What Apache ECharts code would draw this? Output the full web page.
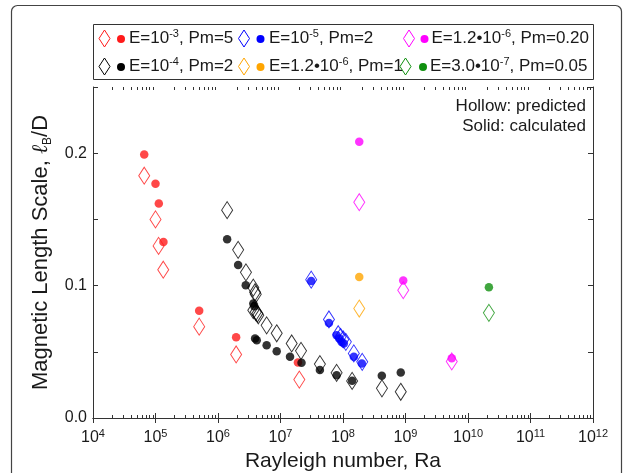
<!DOCTYPE html>
<html>
<head>
<meta charset="utf-8">
<script src="https://cdn.jsdelivr.net/npm/echarts@6/dist/echarts.min.js"></script>
<style>
  html, body { margin: 0; padding: 0; background: #fff; }
  #chart { width: 633px; height: 473px; }
</style>
</head>
<body>
<div id="chart"></div>
<script>
// Magnetic length scale vs Rayleigh number: predicted (hollow) and calculated (solid)

// E=10^-3, Pm=5
const e3Predicted = [[6.6e4, 0.183], [1.0e5, 0.150], [1.12e5, 0.130], [1.33e5, 0.112], [5.0e5, 0.069], [1.95e6, 0.048], [2.0e7, 0.029]];
const e3Calculated = [[6.6e4, 0.199], [1.0e5, 0.177], [1.13e5, 0.162], [1.34e5, 0.133], [5.0e5, 0.081], [1.95e6, 0.061], [1.9e7, 0.042]];

// E=10^-4, Pm=2
const e4Predicted = [[1.4e6, 0.157], [2.1e6, 0.127], [2.8e6, 0.110], [3.67e6, 0.0985], [3.92e6, 0.095], [4.02e6, 0.0934],
  [3.67e6, 0.0814], [4.02e6, 0.080], [4.26e6, 0.0789], [4.41e6, 0.0776], [6.0e6, 0.070], [8.7e6, 0.064],
  [1.51e7, 0.0563], [2.13e7, 0.0507], [4.27e7, 0.0407], [7.9e7, 0.0341], [1.4e8, 0.028], [4.2e8, 0.0224], [8.4e8, 0.0198]];
const e4Calculated = [[1.4e6, 0.135], [2.1e6, 0.1155], [2.78e6, 0.1002], [3.67e6, 0.0864], [3.81e6, 0.0844], [3.92e6, 0.0601],
  [4.17e6, 0.0588], [6.0e6, 0.055], [8.7e6, 0.0505], [1.42e7, 0.0462], [2.17e7, 0.0418], [4.27e7, 0.0362],
  [7.9e7, 0.0322], [1.4e8, 0.0281], [4.18e8, 0.0319], [8.4e8, 0.0344]];

// E=10^-5, Pm=2
const e5Predicted = [[3.1e7, 0.1045], [5.96e7, 0.0744], [8.38e7, 0.0633], [9.16e7, 0.0613], [1.01e8, 0.0593], [1.11e8, 0.0575], [1.49e8, 0.0488], [2.03e8, 0.0424]];
const e5Calculated = [[3.1e7, 0.1035], [5.96e7, 0.0718], [7.9e7, 0.0625], [8.69e7, 0.0601], [9.5e7, 0.0575], [1.03e8, 0.0563], [1.49e8, 0.0462], [2.0e8, 0.0412]];

// E=1.2*10^-6, Pm=0.20
const e12Pm02Predicted = [[1.82e8, 0.163], [9.2e8, 0.0965], [5.5e9, 0.0427]];
const e12Pm02Calculated = [[1.82e8, 0.2087], [9.2e8, 0.1038], [5.5e9, 0.0452]];

// E=1.2*10^-6, Pm=1
const e12Pm1Predicted = [[1.82e8, 0.0827]];
const e12Pm1Calculated = [[1.82e8, 0.1065]];

// E=3.0*10^-7, Pm=0.05
const e03Predicted = [[2.16e10, 0.0794]];
const e03Calculated = [[2.16e10, 0.0987]];

// Axis ranges and ticks
const raMin = 1e4, raMax = 1e12;
const scaleMin = 0, scaleMax = 0.25, scaleStep = 0.05;
const decades = [4, 5, 6, 7, 8, 9, 10, 11];
const minorMultipliers = [2, 3, 4, 5, 6, 7, 8, 9];
const minorTicks = [];
decades.forEach(d => minorMultipliers.forEach(m => minorTicks.push([m * Math.pow(10, d), 0])));

const FONT = 'Liberation Sans, Arial, Helvetica, sans-serif';
const AXIS_COLOR = '#333';
const TEXT_COLOR = '#1a1a1a';

const groups = [
  { name: 'E=10{sup|-3}, Pm=5', color: '#ff1a1a', predicted: e3Predicted, calculated: e3Calculated },
  { name: 'E=10{sup|-4}, Pm=2', color: '#000000', predicted: e4Predicted, calculated: e4Calculated },
  { name: 'E=10{sup|-5}, Pm=2', color: '#0000ff', predicted: e5Predicted, calculated: e5Calculated },
  { name: 'E=1.2•10{sup|-6}, Pm=1', color: '#ffa500', predicted: e12Pm1Predicted, calculated: e12Pm1Calculated },
  { name: 'E=1.2•10{sup|-6}, Pm=0.20', color: '#ff00ff', predicted: e12Pm02Predicted, calculated: e12Pm02Calculated },
  { name: 'E=3.0•10{sup|-7}, Pm=0.05', color: '#10900f', predicted: e03Predicted, calculated: e03Calculated }
];

const series = [];
groups.forEach(g => {
  series.push({
    type: 'scatter', name: g.name + ' predicted', data: g.predicted,
    symbol: 'diamond', symbolSize: [11, 17],
    itemStyle: { color: 'rgba(0,0,0,0)', borderColor: g.color, borderWidth: 1 },
    emphasis: { disabled: true }, silent: true, z: 3
  });
  series.push({
    type: 'scatter', name: g.name + ' calculated', data: g.calculated,
    symbol: 'circle', symbolSize: 8.5,
    itemStyle: { color: g.color, borderWidth: 0 },
    emphasis: { disabled: true }, silent: true, z: 3
  });
});

// Minor log ticks along the bottom and top frame
series.push({
  type: 'custom', data: minorTicks, silent: true, clip: false, z: 2,
  renderItem(params, api) {
    const v = api.value(0);
    const b = api.coord([v, scaleMin]);
    const t = api.coord([v, scaleMax]);
    const x = Math.round(b[0]) + 0.5;
    return {
      type: 'group', children: [
        { type: 'line', shape: { x1: x, y1: b[1], x2: x, y2: b[1] - 3 }, style: { stroke: AXIS_COLOR, lineWidth: 1 } },
        { type: 'line', shape: { x1: x, y1: t[1], x2: x, y2: t[1] + 3 }, style: { stroke: AXIS_COLOR, lineWidth: 1 } }
      ]
    };
  }
});

// Legend drawn as a boxed panel with diamond + dot per entry
const legendLayout = [
  { g: 0, row: 0, dx: 104.5, cx: 121, tx: 129 },
  { g: 2, row: 0, dx: 244, cx: 260.5, tx: 269 },
  { g: 4, row: 0, dx: 409, cx: 424.5, tx: 431.5 },
  { g: 1, row: 1, dx: 104.5, cx: 121, tx: 129 },
  { g: 3, row: 1, dx: 244, cx: 260.5, tx: 269 },
  { g: 5, row: 1, dx: 405.5, cx: 423, tx: 430 }
];
const rowY = [38.5, 66.5];
const legendGraphics = [{
  type: 'rect', shape: { x: 93.5, y: 24.5, width: 500, height: 55 },
  style: { fill: '#fff', stroke: AXIS_COLOR, lineWidth: 1 }, z: 10
}];
legendLayout.forEach(e => {
  const g = groups[e.g];
  const y = rowY[e.row];
  legendGraphics.push({
    type: 'polygon', z: 11,
    shape: { points: [[e.dx, y - 8.5], [e.dx + 5.5, y], [e.dx, y + 8.5], [e.dx - 5.5, y]] },
    style: { fill: 'none', stroke: g.color, lineWidth: 1 }
  });
  legendGraphics.push({
    type: 'circle', z: 11, shape: { cx: e.cx, cy: y + 0.5, r: 4 }, style: { fill: g.color }
  });
  legendGraphics.push({
    type: 'text', z: 11, x: e.tx, y: y,
    style: {
      text: '{m|' + g.name.replace('{sup|', '}{sup|').replace(/\}, /, '}{m|, ') + '}',
      verticalAlign: 'middle', align: 'left',
      rich: {
        m: { fontSize: 17, fontFamily: FONT, fill: TEXT_COLOR, lineHeight: 20 },
        sup: { fontSize: 11, fontFamily: FONT, fill: TEXT_COLOR, lineHeight: 11, verticalAlign: 'top' }
      }
    }
  });
});

const chart = echarts.init(document.getElementById('chart'), null, { renderer: 'canvas' });
chart.setOption({
  animation: false,
  backgroundColor: '#fff',
  grid: { left: 93, right: 40, top: 87, bottom: 55, containLabel: false, outerBoundsMode: 'none' },
  xAxis: [{
    type: 'log', logBase: 10, min: raMin, max: raMax, interval: 1,
    name: 'Rayleigh number, Ra', nameLocation: 'middle', nameGap: 30,
    nameTextStyle: { fontSize: 21, fontFamily: FONT, color: TEXT_COLOR },
    axisLine: { show: true, lineStyle: { color: AXIS_COLOR, width: 1 } },
    axisTick: { show: true, inside: true, length: 5, lineStyle: { color: AXIS_COLOR } },
    splitLine: { show: false },
    axisLabel: {
      margin: 10,
      formatter: v => '{b|10}{s|' + Math.round(Math.log10(v)) + '}',
      rich: {
        b: { fontSize: 16, fontFamily: FONT, color: TEXT_COLOR, lineHeight: 20 },
        s: { fontSize: 11, fontFamily: FONT, color: TEXT_COLOR, lineHeight: 11, verticalAlign: 'top' }
      }
    }
  }, {
    type: 'log', logBase: 10, min: raMin, max: raMax, interval: 1, position: 'top',
    axisLine: { show: true, lineStyle: { color: AXIS_COLOR, width: 1 } },
    axisTick: { show: true, inside: true, length: 5, lineStyle: { color: AXIS_COLOR } },
    axisLabel: { show: false }, splitLine: { show: false }
  }],
  yAxis: [{
    type: 'value', min: scaleMin, max: scaleMax, interval: scaleStep,
    name: 'Magnetic Length Scale, {l|ℓ}{sub|B}{n|/D}', nameLocation: 'middle', nameGap: 37,
    nameTextStyle: {
      fontSize: 22, fontFamily: FONT, color: TEXT_COLOR,
      rich: {
        l: { fontSize: 22, fontFamily: 'DejaVu Serif', fontStyle: 'italic', color: TEXT_COLOR, lineHeight: 26 },
        sub: { fontSize: 12, fontFamily: FONT, color: TEXT_COLOR, lineHeight: 12, verticalAlign: 'bottom' },
        n: { fontSize: 22, fontFamily: FONT, color: TEXT_COLOR, lineHeight: 26 }
      }
    },
    axisLine: { show: true, lineStyle: { color: AXIS_COLOR, width: 1 } },
    axisTick: { show: true, inside: true, length: 5, lineStyle: { color: AXIS_COLOR } },
    splitLine: { show: false },
    axisLabel: {
      margin: 6, fontSize: 16, fontFamily: FONT, color: TEXT_COLOR,
      formatter: v => (Math.round(v * 100) % 10 === 0 && v < scaleMax) ? v.toFixed(1) : ''
    }
  }, {
    type: 'value', min: scaleMin, max: scaleMax, interval: scaleStep, position: 'right',
    axisLine: { show: true, lineStyle: { color: AXIS_COLOR, width: 1 } },
    axisTick: { show: true, inside: true, length: 5, lineStyle: { color: AXIS_COLOR } },
    axisLabel: { show: false }, splitLine: { show: false }
  }],
  series: series,
  graphic: [
    {
      type: 'rect', silent: true, z: 0,
      shape: { x: 11.5, y: 5.5, width: 610, height: 480, r: 6 },
      style: { fill: 'none', stroke: '#444', lineWidth: 1.2 }
    },
    {
      type: 'text', x: 586, y: 106, z: 5,
      style: { text: 'Hollow: predicted', fontSize: 17, fontFamily: FONT, fill: TEXT_COLOR, align: 'right', verticalAlign: 'middle' }
    },
    {
      type: 'text', x: 586, y: 126, z: 5,
      style: { text: 'Solid: calculated', fontSize: 17, fontFamily: FONT, fill: TEXT_COLOR, align: 'right', verticalAlign: 'middle' }
    }
  ].concat(legendGraphics)
});
</script>
</body>
</html>
